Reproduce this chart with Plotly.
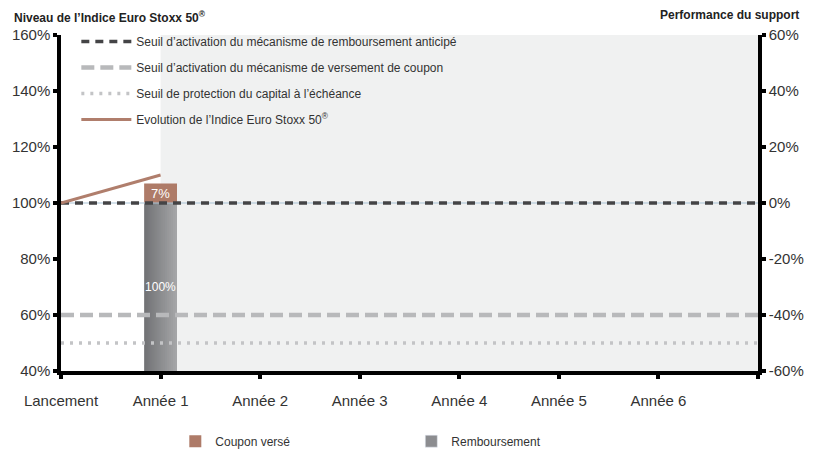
import plotly.graph_objects as go

# ---------------- data ----------------
categories = ["Lancement", "Année 1", "Année 2", "Année 3", "Année 4", "Année 5", "Année 6", ""]
x_pos = list(range(len(categories)))

index_x = [0, 1]
index_level = [100, 110]

early_redemption_threshold = 100
coupon_threshold = 60
capital_protection_threshold = 50

bar_x = [1]
redemption_level = [100]
coupon_paid = [7]

left_ticks = [40, 60, 80, 100, 120, 140, 160]
left_tick_labels = ["40%", "60%", "80%", "100%", "120%", "140%", "160%"]
right_ticks = [-60, -40, -20, 0, 20, 40, 60]
right_tick_labels = ["-60%", "-40%", "-20%", "0%", "20%", "40%", "60%"]

# ---------------- styling ----------------
FONT = "Liberation Sans"
BROWN = "#ae7b68"
BAR_W = 0.33
AXIS_MIN = left_ticks[0]

fig = go.Figure()

# threshold lines (top-left legend)
x_full = [x_pos[0], x_pos[-1]]
fig.add_trace(go.Scatter(x=x_full, y=[early_redemption_threshold] * 2, mode="lines",
                         line=dict(color="#a9c3d6", width=1), showlegend=False, hoverinfo="skip"))
fig.add_trace(go.Scatter(x=x_full, y=[early_redemption_threshold] * 2, mode="lines",
                         name="Seuil d’activation du mécanisme de remboursement anticipé",
                         legendgroup="a", legend="legend",
                         line=dict(color="#444446", width=3.5, dash="8px,6px")))
fig.add_trace(go.Scatter(x=x_full, y=[coupon_threshold] * 2, mode="lines",
                         name="Seuil d’activation du mécanisme de versement de coupon",
                         legendgroup="b", legend="legend",
                         line=dict(color="#b8b9bb", width=4.5, dash="13px,6px")))
fig.add_trace(go.Scatter(x=x_full, y=[capital_protection_threshold] * 2, mode="lines",
                         name="Seuil de protection du capital à l’échéance",
                         legendgroup="c", legend="legend",
                         line=dict(color="#c3c4c6", width=3.5, dash="3px,6px")))

# redemption bar with horizontal gradient (overlapping slices)
n_slices = 16
c0 = (0x72, 0x73, 0x76)
c1 = (0xa4, 0xa5, 0xa7)
slice_w = BAR_W / n_slices
for i in range(n_slices):
    t = i / (n_slices - 1)
    col = "rgb(%d,%d,%d)" % tuple(round(c0[k] + (c1[k] - c0[k]) * t) for k in range(3))
    fig.add_trace(go.Bar(x=bar_x, y=[r - AXIS_MIN for r in redemption_level], base=AXIS_MIN,
                         width=BAR_W - i * slice_w, offset=-BAR_W / 2 + i * slice_w,
                         marker=dict(color=col, line=dict(width=0)),
                         showlegend=False, hoverinfo="skip", legendgroup="bars"))
# label over redemption bar
fig.add_trace(go.Bar(x=bar_x, y=[r - AXIS_MIN for r in redemption_level], base=AXIS_MIN,
                     width=BAR_W, offset=-BAR_W / 2,
                     marker=dict(color="rgba(0,0,0,0)", line=dict(width=0)),
                     text=["%d%%" % r for r in redemption_level], textposition="inside",
                     insidetextanchor="middle", textangle=0, constraintext="none",
                     textfont=dict(color="white", size=12, family=FONT),
                     showlegend=False, hoverinfo="skip"))
# coupon bar
fig.add_trace(go.Bar(x=bar_x, y=coupon_paid, base=redemption_level,
                     width=BAR_W, offset=-BAR_W / 2,
                     marker=dict(color=BROWN, line=dict(width=0)),
                     text=["%d%%" % c for c in coupon_paid], textposition="inside",
                     insidetextanchor="middle", textangle=0, constraintext="none",
                     textfont=dict(color="white", size=13, family=FONT),
                     name="Coupon versé", legend="legend2"))
# legend entry for Remboursement
fig.add_trace(go.Bar(x=[None], y=[None], marker=dict(color="#8c8d90"),
                     name="Remboursement", legend="legend2"))

# index evolution
fig.add_trace(go.Scatter(x=index_x, y=index_level, mode="lines",
                         name="Evolution de l’Indice Euro Stoxx 50<sup>®</sup>",
                         legendgroup="d", legend="legend",
                         line=dict(color="#b07e6c", width=3)))

# right axis dummy trace
fig.add_trace(go.Scatter(x=[None], y=[None], yaxis="y2", showlegend=False))

# shaded zone from Année 1 onward
fig.add_shape(type="rect", xref="x", yref="paper", x0=x_pos[1], x1=x_pos[-1], y0=0, y1=1,
              fillcolor="#f0f1f1", line=dict(width=0), layer="below")

axis_common = dict(showgrid=False, zeroline=False, showline=True, linecolor="black",
                   linewidth=3.5, ticks="outside", ticklen=4, tickwidth=3.5, tickcolor="black",
                   automargin=False,
                   tickfont=dict(family=FONT, size=15, color="#333333"))

fig.update_layout(
    width=814, height=442,
    margin=dict(l=53, r=64, t=27, b=79, autoexpand=False),
    paper_bgcolor="white", plot_bgcolor="white",
    barmode="overlay",
    font=dict(family=FONT, color="#333333"),
    xaxis=dict(range=[x_pos[0], x_pos[-1]], tickvals=x_pos, ticktext=categories,
               ticklabelstandoff=9, **axis_common),
    yaxis=dict(range=[left_ticks[0], left_ticks[-1]], tickvals=left_ticks,
               ticktext=left_tick_labels, **axis_common),
    yaxis2=dict(range=[right_ticks[0], right_ticks[-1]], tickvals=right_ticks,
                ticktext=right_tick_labels, overlaying="y", side="right", **axis_common),
    legend=dict(x=0.022, y=1.024, xanchor="left", yanchor="top", bgcolor="rgba(0,0,0,0)",
                font=dict(family=FONT, size=12, color="#333333"), tracegroupgap=7,
                itemwidth=50, traceorder="grouped"),
    legend2=dict(orientation="h", x=0.164, xanchor="left", y=0.02, yref="container",
                 yanchor="middle",
                 bgcolor="rgba(0,0,0,0)", entrywidth=191, entrywidthmode="pixels",
                 font=dict(family=FONT, size=12, color="#333333")),
    annotations=[
        dict(text="<b>Niveau de l’Indice Euro Stoxx 50<sup>®</sup></b>", xref="paper", yref="paper",
             x=-0.07, y=1.0, yshift=18, xanchor="left", yanchor="middle", showarrow=False,
             font=dict(family=FONT, size=12, color="#222222")),
        dict(text="<b>Performance du support</b>", xref="paper", yref="paper",
             x=1.0, xshift=43, y=1.0, yshift=20, xanchor="right", yanchor="middle", showarrow=False,
             font=dict(family=FONT, size=12, color="#222222")),
    ],
)

fig.write_html("out.html")
